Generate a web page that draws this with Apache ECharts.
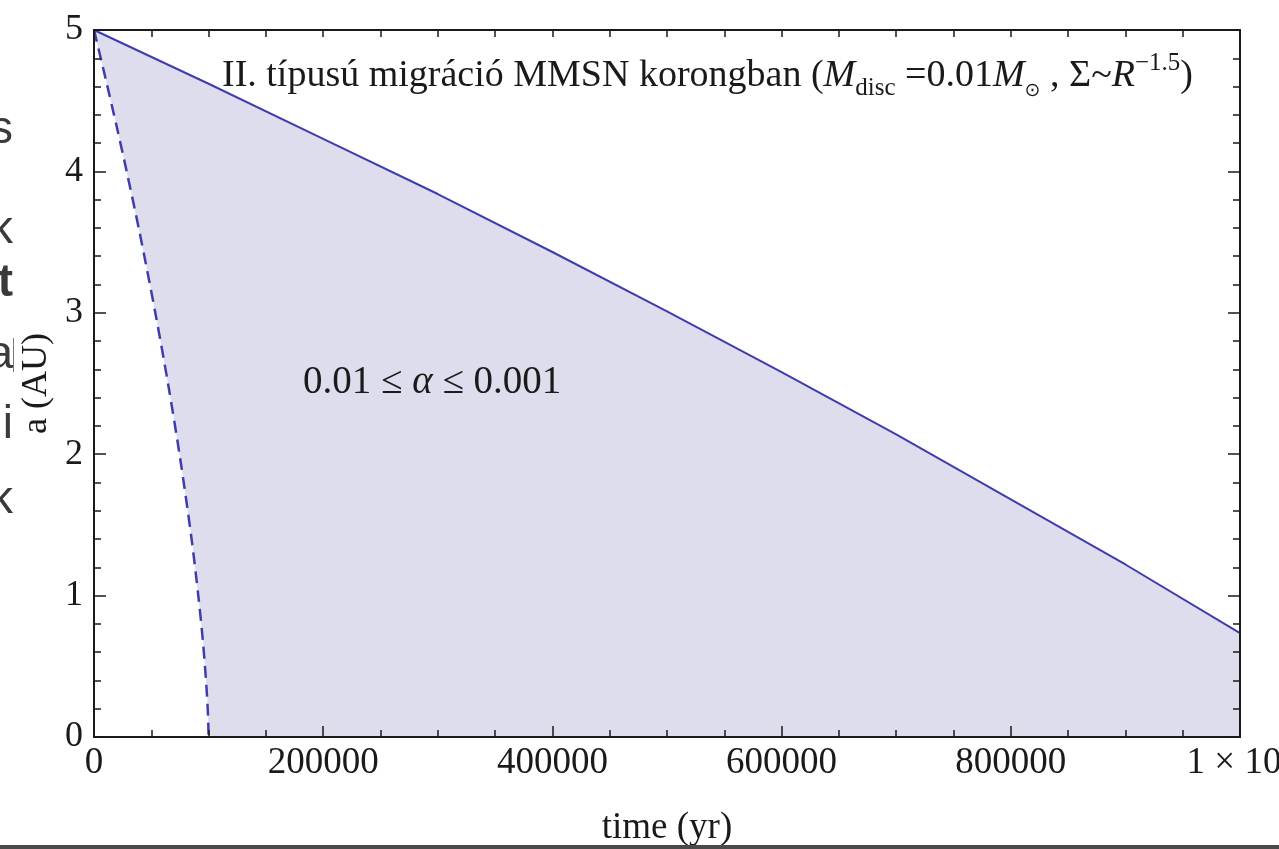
<!DOCTYPE html>
<html><head><meta charset="utf-8">
<script src="https://cdn.jsdelivr.net/npm/echarts@6/dist/echarts.min.js"></script>
<style>html,body{margin:0;padding:0;background:#fff}#c{width:1279px;height:849px}</style>
</head><body><div id="c"></div>
<script>
// ---- data ----
const solidTime = [0,100000,200000,300000,400000,500000,600000,700000,800000,900000,1000000];
const solidA    = [5,4.62,4.23,3.84,3.43,3.01,2.58,2.14,1.68,1.22,0.735];
const dashTime  = [0,10000,20000,28500,40000,53500,65000,75000,85000,91000,95000,98000,99500,100000];
const dashA     = [5,4.66,4.31,4.0,3.56,3.0,2.48,1.98,1.41,1.0,0.68,0.37,0.15,0];
const xTickLabels = {0:'0',200000:'200000',400000:'400000',600000:'600000',800000:'800000',1000000:'1 × 10{sup|6}'};
const yTickLabels = ['0','1','2','3','4','5'];
const titleText = 'II. típusú migráció MMSN korongban ({mi|M}{sub|disc} =0.01{mi|M}{sub2|⊙} , Σ~{mi|R}{sup|−1.5})';
const annotText = '0.01 ≤ {mi|α} ≤ 0.001';
const sideFragments = [['s',130,false],['k',230,false],['t',283,true],['a',355,false],['i',425,false],['k',500,false]];

const serif = '"Liberation Serif","Times New Roman",serif';
const ink = '#1a1a1a';
const lineColor = '#3d3dae';
const fillColor = '#dddded';

const solidData = solidTime.map((t,i)=>[t,solidA[i]]);
const dashData = dashTime.map((t,i)=>[t,dashA[i]]);

const axisLine = {show:true,onZero:false,lineStyle:{color:ink,width:2}};
function xAx(pos, showLabel){
  return {type:'value',min:0,max:1000000,interval:200000,position:pos,z:10,
    axisLine,
    axisTick:{show:true,inside:true,length:showLabel?11:7,lineStyle:{color:ink,width:1.5}},
    minorTick:{show:true,splitNumber:4,length:7,lineStyle:{color:ink,width:1.5}},
    splitLine:{show:false},minorSplitLine:{show:false},
    axisLabel:{show:showLabel,margin:8,fontFamily:serif,fontSize:37,color:ink,
      showMinLabel:true,showMaxLabel:true,hideOverlap:false,
      formatter:v=>xTickLabels[v]!==undefined?xTickLabels[v]:'',
      rich:{sup:{fontFamily:serif,fontSize:24,color:ink,verticalAlign:'top'}}},
    name:showLabel?'time (yr)':'',nameLocation:'middle',nameGap:73,
    nameTextStyle:{fontFamily:serif,fontSize:37,color:ink}};
}
function yAx(pos, showLabel){
  return {type:'value',min:0,max:5,interval:1,position:pos,z:10,
    axisLine,
    axisTick:{show:true,inside:true,length:12,lineStyle:{color:ink,width:1.5}},
    minorTick:{show:true,splitNumber:5,length:7,lineStyle:{color:ink,width:1.5}},
    splitLine:{show:false},minorSplitLine:{show:false},
    axisLabel:{show:showLabel,margin:11,fontFamily:serif,fontSize:36,color:ink,
      formatter:v=>yTickLabels[Math.round(v)]},
    name:showLabel?'a (AU)':'',nameLocation:'middle',nameRotate:90,nameGap:39,
    nameTextStyle:{fontFamily:serif,fontSize:36,color:ink}};
}

const graphics = [];
sideFragments.forEach(([ch,y,bold])=>{
  graphics.push({type:'text',x:13,y:y,z:100,silent:true,
    style:{text:ch,x:0,y:0,align:'right',verticalAlign:'middle',
      font:(bold?'bold ':'')+'46px "Liberation Sans",Arial,sans-serif',fill:'#3a3a3a'}});
});
graphics.push({type:'line',z:100,silent:true,shape:{x1:13.5,y1:338,x2:13.5,y2:372},style:{stroke:'#777',lineWidth:1}});
graphics.push({type:'rect',z:100,silent:true,shape:{x:0,y:845,width:1279,height:4},style:{fill:'#4a4a4a'}});
graphics.push({type:'text',x:222,y:76,z:100,silent:true,
  style:{text:titleText,align:'left',verticalAlign:'middle',fontFamily:serif,fontSize:38,fill:ink,lineHeight:50,
    rich:{mi:{fontFamily:serif,fontSize:38,fontStyle:'italic',fill:ink},
          sub:{fontFamily:serif,fontSize:25,fill:ink,verticalAlign:'bottom',lineHeight:34},
          sub2:{fontFamily:'"DejaVu Sans",sans-serif',fontSize:19,fill:ink,verticalAlign:'bottom',lineHeight:24},
          sup:{fontFamily:serif,fontSize:25,fill:ink,verticalAlign:'top',lineHeight:32}}}});
graphics.push({type:'text',x:303,y:383,z:100,silent:true,
  style:{text:annotText,align:'left',verticalAlign:'middle',fontFamily:serif,fontSize:39,fill:ink,
    rich:{mi:{fontFamily:serif,fontSize:39,fontStyle:'italic',fill:ink}}}});

const chart = echarts.init(document.getElementById('c'));
chart.setOption({
  backgroundColor:'#ffffff',
  animation:false,
  grid:{left:94,right:39,top:30,bottom:112,containLabel:false,outerBoundsMode:'none'},
  xAxis:[xAx('bottom',true),xAx('top',false)],
  yAxis:[yAx('left',true),yAx('right',false)],
  graphic:graphics,
  series:[
    {type:'line',data:solidData,xAxisIndex:0,yAxisIndex:0,symbol:'none',z:2,
     lineStyle:{width:0,opacity:0},areaStyle:{color:fillColor,opacity:1}},
    {type:'line',data:dashData,xAxisIndex:0,yAxisIndex:0,symbol:'none',z:3,smooth:0.3,
     lineStyle:{color:lineColor,width:2.5,type:[12,7]},areaStyle:{color:'#ffffff',opacity:1}},
    {type:'line',data:solidData,xAxisIndex:0,yAxisIndex:0,symbol:'none',z:4,
     lineStyle:{color:lineColor,width:2}}
  ]
});
</script></body></html>
